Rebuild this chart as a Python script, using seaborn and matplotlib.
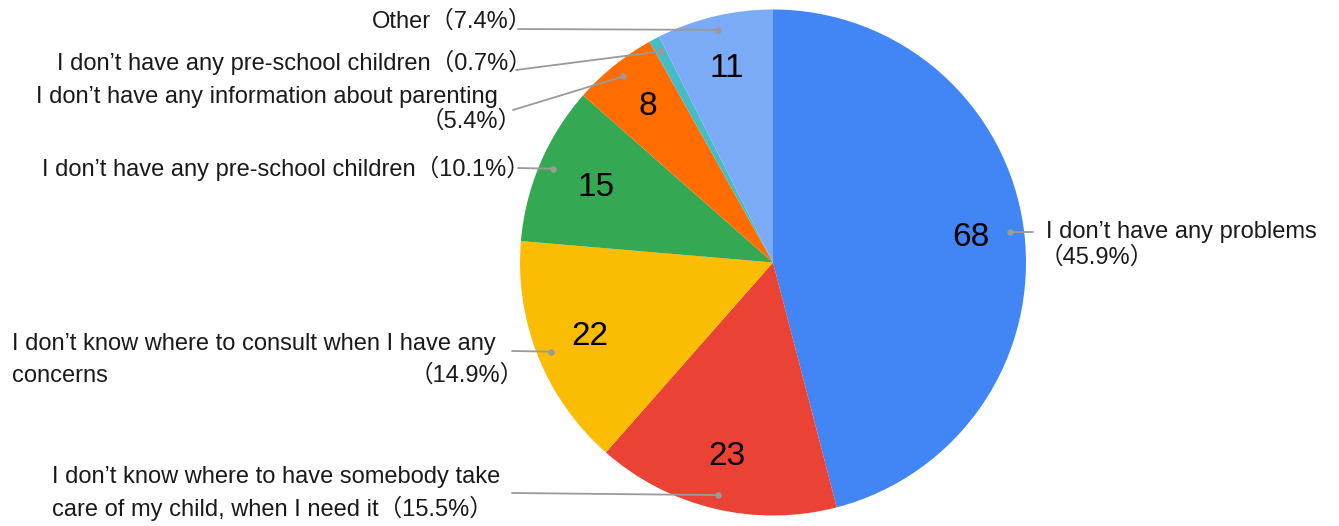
import numpy as np
import matplotlib
matplotlib.use("Agg")
import matplotlib.pyplot as plt
import seaborn as sns

sns.set_theme(style="white")
FONT = ["Liberation Sans", "Noto Sans CJK JP", "DejaVu Sans"]
plt.rcParams["font.family"] = FONT

# data (clockwise from 12 o'clock)
categories = [
    "I don’t have any problems",
    "I don’t know where to have somebody take care of my child, when I need it",
    "I don’t know where to consult when I have any concerns",
    "I don’t have any pre-school children",
    "I don’t have any information about parenting",
    "I don’t have any pre-school children",
    "Other",
]
counts = [68, 23, 22, 15, 8, 1, 11]
colors = ["#4285F4", "#EA4335", "#FBBC04", "#34A853", "#FF6D01", "#46BDC6", "#7BAAF7"]
number_radius = [0.79, 0.79, 0.78, 0.76, 0.79, 0.0, 0.79]

total = sum(counts)
pcts = [f"（{c / total * 100:.1f}%）" for c in counts]

W, H = 1339, 526
CX, CY, R = 773, 262.5, 253


def Y(y):
    # image row -> data y
    return H - y


fig = plt.figure(figsize=(W / 100, H / 100), dpi=100)
ax = fig.add_axes([0, 0, 1, 1])
ax.set_xlim(0, W)
ax.set_ylim(0, H)
ax.set_aspect("equal")
ax.axis("off")

wedges, _ = ax.pie(counts, colors=colors, startangle=90, counterclock=False,
                   center=(CX, Y(CY)), radius=R, frame=True,
                   wedgeprops=dict(linewidth=0))
ax.set_xlim(0, W)
ax.set_ylim(0, H)
ax.axis("off")

# value labels inside slices
for w, c, rf in zip(wedges, counts, number_radius):
    if rf == 0:
        continue
    mid = np.deg2rad((w.theta1 + w.theta2) / 2)
    ax.text(CX + rf * R * np.cos(mid), Y(CY) + rf * R * np.sin(mid), str(c),
            ha="center", va="center", fontsize=24, color="black")

# leader-line endpoints on the text side (image coords)
anchors = [(1033, 232), (512, 493), (512, 351), (518, 168), (513, 110), (516, 70), (518, 29)]
for w, (ax_x, ax_y) in zip(wedges, anchors):
    mid = np.deg2rad((w.theta1 + w.theta2) / 2)
    px = CX + 0.945 * R * np.cos(mid)
    py = Y(CY) + 0.945 * R * np.sin(mid)
    ax.plot([ax_x, px], [Y(ax_y), py], color="#9a9a9a", lw=1.3, zorder=3)
    ax.scatter([px], [py], s=22, color="#9a9a9a", zorder=4, linewidths=0)

# category text blocks
label_lines = [
    [(categories[0], 1046, 232, "left"), (pcts[0], 1040, 258, "left")],
    [("I don’t know where to have somebody take", 52, 477, "left"),
     ("care of my child, when I need it" + pcts[1], 52, 508, "left")],
    [("I don’t know where to consult when I have any", 12, 344, "left"),
     ("concerns", 12, 376, "left"), (pcts[2], 524, 376, "right")],
    [(categories[3] + pcts[3], 530, 168, "right")],
    [(categories[4], 498, 97, "right"), (pcts[4], 522, 122, "right")],
    [(categories[5] + pcts[5], 532, 62, "right")],
    [(categories[6] + pcts[6], 532, 21, "right")],
]
for block in label_lines:
    for txt, x, y, ha in block:
        ax.text(x, Y(y), txt, ha=ha, va="center", fontsize=17, color="#1a1a1a")

fig.savefig("out.png", dpi=100)
